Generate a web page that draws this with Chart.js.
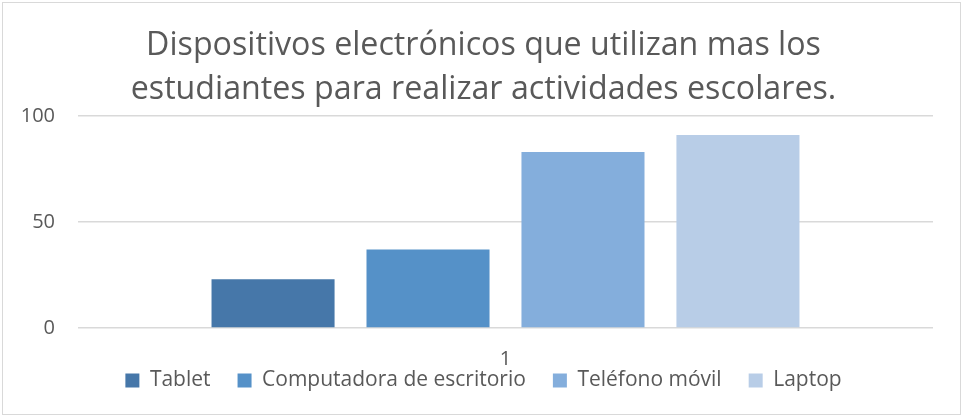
<!DOCTYPE html>
<html>
<head>
<meta charset="utf-8">
<script src="https://cdn.jsdelivr.net/npm/chart.js@4.4.0/dist/chart.umd.min.js"></script>
<style>
  html, body { margin: 0; padding: 0; background: #fff; }
  #wrap { position: absolute; left: 2px; top: 2px; width: 957px; height: 411px; border: 1px solid #d9d9d9; }
</style>
</head>
<body>
<div id="wrap"><canvas id="chart"></canvas></div>
<script>
const categories = ['1'];
const seriesNames = ['Tablet', 'Computadora de escritorio', 'Teléfono móvil', 'Laptop'];
const seriesValues = [[23], [37], [83], [91]];
const seriesColors = ['#4677a9', '#5591c8', '#84aedc', '#b8cde7'];
const yTicks = [0, 50, 100];

const fontFamily = '"Open Sans", "Liberation Sans", sans-serif';
Chart.defaults.font.family = fontFamily;
Chart.defaults.color = '#595959';

// width of the widest y label, so the mirrored labels can sit left of the axis
const m = document.createElement('canvas').getContext('2d');
m.font = '20px ' + fontFamily;
const yLabelWidth = Math.max(...yTicks.map(v => m.measureText(String(v)).width));

let datasets = [];
for (let i = 0; i < seriesNames.length; i++) {
    datasets.push({
        label: seriesNames[i],
        data: seriesValues[i],
        backgroundColor: seriesColors[i],
        borderWidth: 0,
        categoryPercentage: 0.725,
        barPercentage: 0.794
    });
}

const ctx = document.getElementById('chart').getContext('2d');
const chart = new Chart(ctx, {
    type: 'bar',
    data: {
        labels: categories,
        datasets: datasets
    },
    options: {
        responsive: true,
        maintainAspectRatio: false,
        animation: false,
        layout: { padding: { left: 31, right: 27, top: 0, bottom: 13 } },
        plugins: {
            title: {
                display: true,
                text: ['Dispositivos electrónicos que utilizan mas los', 'estudiantes para realizar actividades escolares.'],
                font: { size: 32.2, weight: 'normal', lineHeight: 1.366 },
                color: '#595959',
                padding: { top: 20.5, bottom: 4.5 }
            },
            legend: {
                position: 'bottom',
                labels: {
                    boxWidth: 14,
                    boxHeight: 14,
                    padding: 27,
                    font: { size: 21 },
                    color: '#595959'
                }
            },
            tooltip: { enabled: false }
        },
        scales: {
            x: {
                grid: { display: false, drawTicks: false },
                border: { display: false },
                ticks: { font: { size: 20 }, color: '#595959', mirror: true, padding: -43 },
                afterFit: function (axis) { axis.height = 15; }
            },
            y: {
                min: 0,
                max: 100,
                afterBuildTicks: function (axis) {
                    axis.ticks = yTicks.map(v => ({ value: v }));
                },
                afterFit: function (axis) { axis.width = 44; },
                grid: { color: '#d9d9d9', lineWidth: 1.5, drawTicks: false },
                border: { display: false },
                ticks: {
                    font: { size: 20 },
                    color: '#595959',
                    mirror: true,
                    crossAlign: 'far',
                    padding: -(23 + yLabelWidth)
                }
            }
        }
    }
});
</script>
</body>
</html>
